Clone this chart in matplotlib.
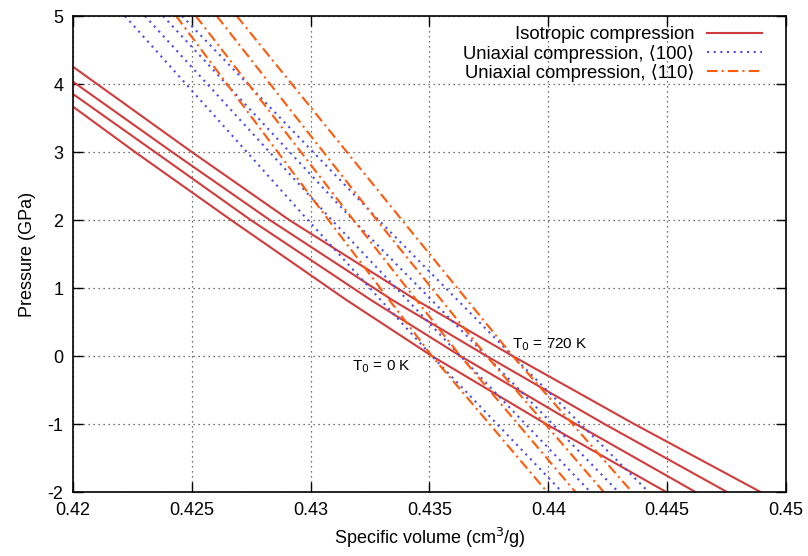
import numpy as np
import matplotlib.pyplot as plt

plt.rcParams['font.family'] = ['Liberation Sans', 'DejaVu Sans']
plt.rcParams['axes.unicode_minus'] = False

# isotropic compression, one row per T0 (0 K ... 720 K)
iso_p = [
    [3.667, 3, 2, 0.82, 0, -1, -2],
    [3.853, 3, 2, 0.82, 0, -1, -2],
    [4.034, 3, 2, 0.82, 0, -1, -2],
    [4.254, 3, 2, 0.82, 0, -1, -2],
]
iso_v = [
    [0.42, 0.42261, 0.42665, 0.43152, 0.4351, 0.4399, 0.44496],
    [0.42, 0.42345, 0.42748, 0.43255, 0.4363, 0.44115, 0.44619],
    [0.42, 0.42417, 0.42828, 0.43345, 0.4374, 0.44236, 0.44752],
    [0.42, 0.42500, 0.42910, 0.43445, 0.4385, 0.44361, 0.44893],
]

# uniaxial compressions, volumes at these pressures
p_uni = [5, 2, 0, -2]
u100_v = [
    [0.42219, 0.42988, 0.4351, 0.44058],
    [0.42303, 0.43089, 0.4363, 0.44177],
    [0.42379, 0.43178, 0.4374, 0.44295],
    [0.42459, 0.43286, 0.4385, 0.44422],
]
u110_v = [
    [0.42434, 0.43075, 0.4351, 0.43995],
    [0.42517, 0.43180, 0.4363, 0.44114],
    [0.42605, 0.43278, 0.4374, 0.44233],
    [0.42689, 0.43384, 0.4385, 0.44352],
]

red = '#d03c3c'
blue = '#4b4be6'
orange = '#ff5a0a'

fig = plt.figure(figsize=(8.08, 5.56), dpi=100)
ax = fig.add_axes([0.0903, 0.1151, 0.8825, 0.8561])

for i in range(4):
    ax.plot(iso_v[i], iso_p[i], color=red, lw=1.5,
            label='Isotropic compression' if i == 0 else None)
for i in range(4):
    ax.plot(u100_v[i], p_uni, color=blue, lw=1.5, linestyle=(0, (1, 2.2)),
            label='Uniaxial compression, \u27e8100\u27e9' if i == 0 else None)
for i in range(4):
    ax.plot(u110_v[i], p_uni, color=orange, lw=1.5, linestyle=(0, (5, 2, 1, 2)),
            label='Uniaxial compression, \u27e8110\u27e9' if i == 0 else None)

ax.text(0.43175, -0.16, 'T$_0$ = 0 K', fontsize=11, va='center', ha='left')
ax.text(0.43848, 0.16, 'T$_0$ = 720 K', fontsize=11, va='center', ha='left')

ax.set_xlim(0.42, 0.45)
ax.set_ylim(-2, 5)
ax.set_xticks(np.arange(0.42, 0.4501, 0.005))
ax.set_xticklabels(['0.42', '0.425', '0.43', '0.435', '0.44', '0.445', '0.45'])
ax.set_yticks(range(-2, 6))
ax.tick_params(direction='in', top=True, right=True, length=7, width=1,
               labelsize=13, pad=7)
for s in ax.spines.values():
    s.set_linewidth(1.2)
ax.grid(True, color='#444444', linestyle=(0, (1, 3)), linewidth=0.9)

ax.set_xlabel('Specific volume (cm$^3$/g)', fontsize=13, labelpad=5)
ax.set_ylabel('Pressure (GPa)', fontsize=13, labelpad=8)

ax.legend(loc='upper right', bbox_to_anchor=(0.9767, 0.9937), borderaxespad=0,
          frameon=False, markerfirst=False, fontsize=13.3,
          handlelength=3.0, labelspacing=0.06, handletextpad=0.65)

fig.savefig('out.png', dpi=100)
